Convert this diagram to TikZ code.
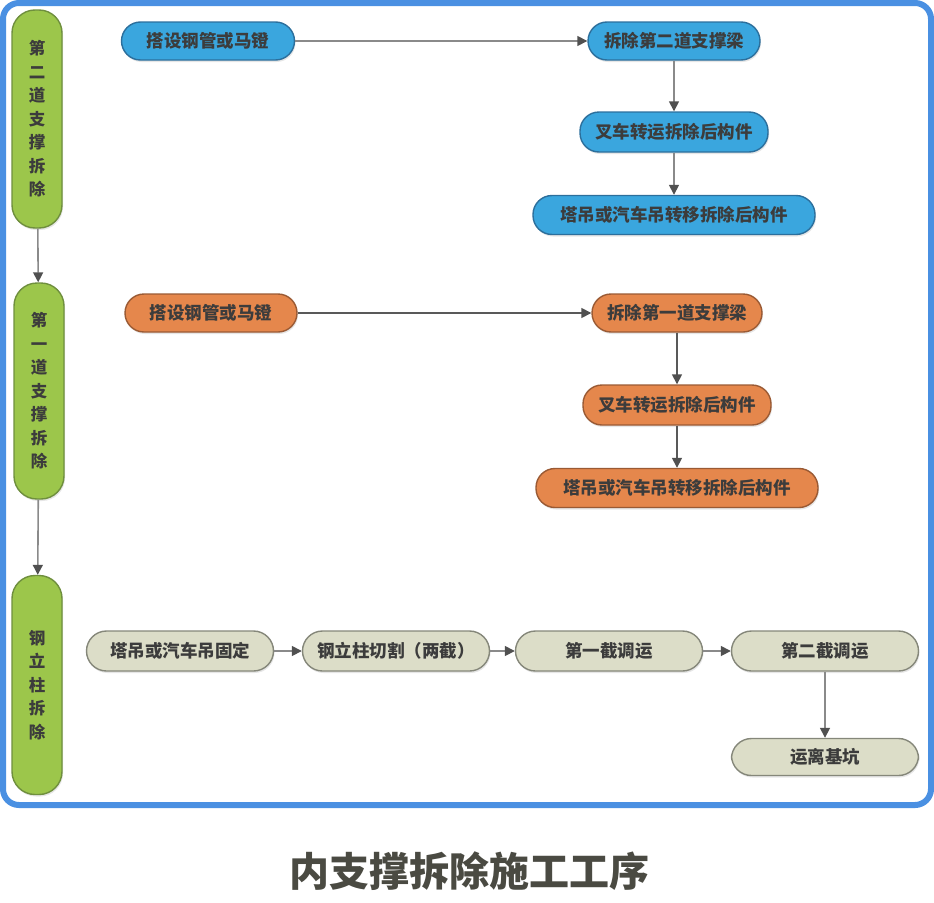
\documentclass[tikz,border=0pt]{standalone}
\usepackage{fontspec}
\newfontfamily\cjk{Noto Sans CJK SC}
\usetikzlibrary{arrows.meta,shadows}

\definecolor{frameblue}{HTML}{4A90E2}
\definecolor{stepblue}{HTML}{3AA6DE}
\definecolor{stepblueline}{HTML}{2C6F9C}
\definecolor{steporange}{HTML}{E5874C}
\definecolor{steporangeline}{HTML}{9A5A34}
\definecolor{stepgrey}{HTML}{DCDDC8}
\definecolor{stepgreyline}{HTML}{85877A}
\definecolor{phasegreen}{HTML}{9CC64B}
\definecolor{phasegreenline}{HTML}{6F8F3E}
\definecolor{textgrey}{HTML}{3C3C3C}
\definecolor{titlegrey}{HTML}{4A4A42}
\definecolor{linkgrey}{HTML}{8A8A8A}

\begin{document}
\begin{tikzpicture}[x=1pt,y=1pt,->,>={Triangle[length=10pt,width=10pt,fill=textgrey!90,color=textgrey!90]},
  line width=1.6pt,color=linkgrey,
  base node/.style={rectangle,line width=1.4pt,text=textgrey,inner sep=0pt,
    font=\cjk\bfseries\fontsize{17.5}{20}\selectfont,
    drop shadow={shadow xshift=1pt,shadow yshift=-2pt,opacity=0.2}},
  phase node/.style={base node,fill=phasegreen,draw=phasegreenline,minimum width=50pt,
    rounded corners=23pt,align=center,font=\cjk\bfseries\fontsize{16.5}{23.5}\selectfont},
  blue node/.style={base node,fill=stepblue,draw=stepblueline,minimum height=38pt,rounded corners=19pt},
  orange node/.style={base node,fill=steporange,draw=steporangeline,minimum height=38pt,rounded corners=19pt},
  grey node/.style={base node,fill=stepgrey,draw=stepgreyline,minimum height=40pt,rounded corners=20pt,
    minimum width=187pt}]

 \useasboundingbox (0,0) rectangle (934,-902);
 \draw[-,line width=6pt,frameblue,rounded corners=16pt] (3,-3) rectangle (931,-805);

 % phases
 \node[phase node,minimum height=218pt] (g1) at (37,-119) {第\\二\\道\\支\\撑\\拆\\除};
 \node[phase node,minimum height=216pt] (g2) at (39,-391) {第\\一\\道\\支\\撑\\拆\\除};
 \node[phase node,minimum height=219pt] (g3) at (37,-685) {钢\\立\\柱\\拆\\除};

 % second strut
 \node[blue node,minimum width=173pt] (a1) at (208,-41) {搭设钢管或马镫};
 \node[blue node,minimum width=172pt] (a2) at (674,-41) {拆除第二道支撑梁};
 \node[blue node,minimum width=188pt,minimum height=40pt] (a3) at (674,-132) {叉车转运拆除后构件};
 \node[blue node,minimum width=282pt,minimum height=39pt] (a4) at (674,-215) {塔吊或汽车吊转移拆除后构件};

 % first strut
 \node[orange node,minimum width=172pt] (b1) at (211,-313) {搭设钢管或马镫};
 \node[orange node,minimum width=170pt] (b2) at (677,-313) {拆除第一道支撑梁};
 \node[orange node,minimum width=188pt,minimum height=40pt] (b3) at (677,-405) {叉车转运拆除后构件};
 \node[orange node,minimum width=282pt,minimum height=39pt] (b4) at (677,-488) {塔吊或汽车吊转移拆除后构件};

 % steel column
 \node[grey node] (c1) at (180,-651) {塔吊或汽车吊固定};
 \node[grey node] (c2) at (396,-651) {钢立柱切割（两截）};
 \node[grey node] (c3) at (609,-651) {第一截调运};
 \node[grey node] (c4) at (825,-651) {第二截调运};
 \node[grey node,minimum height=37pt] (c5) at (825,-757) {运离基坑};

 \path
    (g1) edge (g2)
    (g2) edge (g3)
    (a1) edge (a2)
    (a2) edge (a3)
    (a3) edge (a4)
    (b1) edge[textgrey!85] (b2)
    (b2) edge[textgrey!85] (b3)
    (b3) edge[textgrey!85] (b4)
    (c1) edge (c2)
    (c2) edge (c3)
    (c3) edge (c4)
    (c4) edge (c5);

 \node[text=titlegrey,font=\cjk\bfseries\fontsize{40}{44}\selectfont] (title) at (469,-871) {内支撑拆除施工工序};
\end{tikzpicture}
\end{document}
